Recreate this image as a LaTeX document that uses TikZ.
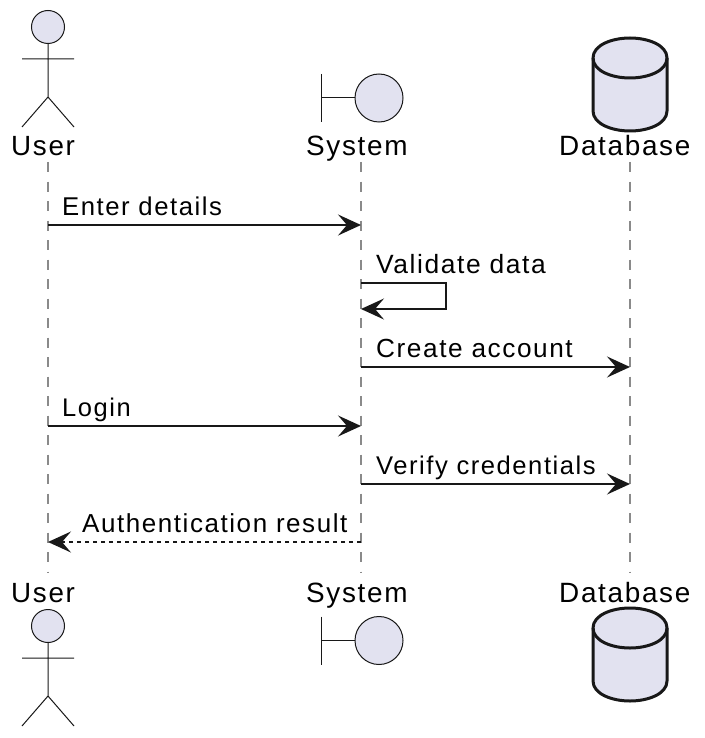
\documentclass[tikz,border=0pt]{standalone}
\usepackage{fontspec}
\setmainfont[LetterSpace=6]{Liberation Sans}
\usetikzlibrary{arrows.meta}
\definecolor{fillc}{HTML}{E2E2F0}
\definecolor{linec}{HTML}{181818}
\definecolor{lifec}{HTML}{8A8A8A}
\tikzset{
  x=1pt,y=-1pt,
  lbl/.style={font=\fontsize{#1}{30}\selectfont,text=black,inner sep=0pt,anchor=base west},
  lbl/.default=26,
  head/.style={draw=linec,fill=fillc,line width=1pt},
  stick/.style={draw=linec,line width=1pt},
  dbshape/.style={draw=linec,fill=fillc,line width=3pt},
  life/.style={draw=lifec,line width=2pt,dash pattern=on 10pt off 9.5pt},
  msg/.style={draw=linec,line width=2pt,-{Stealth[length=23pt,width=21pt,inset=9pt]},shorten >=0pt},
  ret/.style={msg,dash pattern=on 4pt off 4pt},
}
\newcommand{\actorfig}[1]{% y of head centre
  \draw[stick] (48,#1+16.5) -- (48,#1+70) (22,#1+32) -- (74,#1+32) (22,#1+100) -- (48,#1+70) -- (74,#1+100);
  \draw[head] (48,#1) circle[radius=16.5];
}
\newcommand{\boundaryfig}[1]{% y of circle centre
  \draw[stick] (321,#1-24) -- (321,#1+24) (321,#1) -- (355,#1);
  \draw[head] (379,#1) circle[radius=24];
}
\newcommand{\dbfig}[1]{% y of top of cylinder
  \draw[dbshape] (593,#1+20) .. controls (593,#1+7) and (612,#1) .. (630,#1) .. controls (648,#1) and (667,#1+7) .. (667,#1+20)
    -- (667,#1+73) .. controls (667,#1+86) and (648,#1+93) .. (630,#1+93) .. controls (612,#1+93) and (593,#1+86) .. (593,#1+73) -- cycle;
  \draw[line width=3pt,draw=linec] (593,#1+20) .. controls (593,#1+33) and (612,#1+40) .. (630,#1+40) .. controls (648,#1+40) and (667,#1+33) .. (667,#1+20);
}
\begin{document}
\begin{tikzpicture}
\useasboundingbox (0,0) rectangle (704,738);
% lifeline ends
\coordinate (ut) at (48,162); \coordinate (ub) at (48,572);
\coordinate (st) at (361,162); \coordinate (sb) at (361,572);
\coordinate (dt) at (630,162); \coordinate (db) at (630,572);
\draw[life] (ut) -- (ub);
\draw[life] (st) -- (sb);
\draw[life] (dt) -- (db);
% participants
\actorfig{27}
\actorfig{626}
\boundaryfig{98}
\boundaryfig{640.5}
\dbfig{38}
\dbfig{608}
\node[lbl=27.8] (userT) at (11,156) {User};
\node[lbl=27.9] (sysT) at (306,156) {System};
\node[lbl=27.9] (dbT) at (559,156) {Database};
\node[lbl=27.8] (userB) at (11,602) {User};
\node[lbl=27.9] (sysB) at (306,602) {System};
\node[lbl=27.9] (dbB) at (559,602) {Database};
% messages
\coordinate (u1) at (48,225); \coordinate (s1) at (361,225);
\coordinate (s2a) at (361,283); \coordinate (s2b) at (446,283); \coordinate (s2c) at (446,309); \coordinate (s2d) at (361,309);
\coordinate (s3) at (361,367); \coordinate (d3) at (630,367);
\coordinate (u4) at (48,426); \coordinate (s4) at (361,426);
\coordinate (s5) at (361,484); \coordinate (d5) at (630,484);
\coordinate (s6) at (361,542); \coordinate (u6) at (48,542);
\draw[msg] (u1) -- (s1);
\draw[msg] (s2a) -- (s2b) -- (s2c) -- (s2d);
\draw[msg] (s3) -- (d3);
\draw[msg] (u4) -- (s4);
\draw[msg] (s5) -- (d5);
\draw[ret] (s6) -- (u6);
\node[lbl=25.7] (m1) at (62,215) {Enter details};
\node[lbl=26.4] (m2) at (376,273) {Validate data};
\node[lbl=26.2] (m3) at (376,357) {Create account};
\node[lbl=25.5] (m4) at (62,416) {Login};
\node[lbl=25.6] (m5) at (376,474) {Verify credentials};
\node[lbl] (m6) at (82,532) {Authentication result};
\end{tikzpicture}
\end{document}
